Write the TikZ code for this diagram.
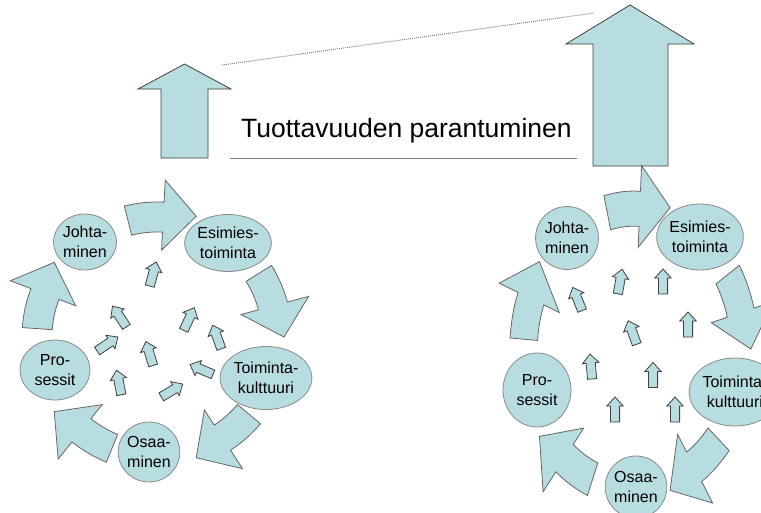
\documentclass[tikz,border=0pt]{standalone}
\usepackage{fontspec}
\setmainfont{Liberation Sans}
\usetikzlibrary{shapes.geometric}
\definecolor{fillb}{HTML}{B7DDE0}
\definecolor{edgeg}{HTML}{666666}
\definecolor{edgec}{HTML}{8A8A8A}
\tikzset{
  blk/.style={fill=fillb, draw=edgeg, line width=0.8pt, line join=miter},
  sblk/.style={fill=fillb, draw=black!75, line width=0.8pt, line join=miter},
  circ/.style={ellipse, fill=fillb, draw=edgec, line width=0.8pt, inner sep=0pt,
    align=center, font=\fontsize{16}{20}\selectfont},
}
\newcommand\curvarr[1]{%
  \pgfmathsetmacro\ta{#1-32}%
  \pgfmathsetmacro\tb{#1-15}%
  \filldraw[blk] plot[domain=\ta:\tb,samples=16] (\x:135) -- (\tb:157) -- (#1:127)
    -- (\tb:87) -- plot[domain=\tb:\ta,samples=16] (\x:105) -- cycle;
}
\newcommand\smallarr[3]{%
  \filldraw[sblk, shift={(#1,#2)}, rotate=#3] (0,-12.5) -- (8.2,-3.5) -- (4.6,-3.5)
    -- (4.6,12.5) -- (-4.6,12.5) -- (-4.6,-3.5) -- (-8.2,-3.5) -- cycle;
}
\begin{document}
\begin{tikzpicture}[x=1pt, y=1pt, yscale=-1]
\useasboundingbox (0,0) rectangle (761,512);
\clip (0,0) rectangle (761,512);

% top arrows
\filldraw[sblk] (184.5,64) -- (231,89) -- (208,89) -- (208,158) -- (161,158)
  -- (161,89) -- (138,89) -- cycle;
\filldraw[sblk] (630,5) -- (694,44) -- (668,44) -- (668,166) -- (593,166)
  -- (593,44) -- (566,44) -- cycle;

% lines and title
\coordinate (d1) at (222,65);
\coordinate (d2) at (594,13);
\draw[gray, line width=1pt, densely dotted] (d1) -- (d2);
\coordinate (u1) at (230,158);
\coordinate (u2) at (577,158);
\draw[gray, line width=0.8pt] (u1) -- (u2);
\node[anchor=base west, inner sep=0pt, font=\fontsize{26.5}{30}\selectfont] (title)
  at (241,137) {Tuottavuuden parantuminen};

% left cycle
\begin{scope}[shift={(157,337)}]
  \foreach \t in {-72,0,72,144,216} {\curvarr{\t}}
\end{scope}
\node[circ, minimum width=58pt, minimum height=56pt] (LJ) at (85,242) {Johta-\\minen};
\node[circ, minimum width=63pt, minimum height=57pt] (LE) at (228,243) {Esimies-\\toiminta};
\node[circ, minimum width=72pt, minimum height=63pt] (LT) at (266,378) {Toiminta-\\kulttuuri};
\node[circ, minimum width=57pt, minimum height=60pt] (LO) at (149,452) {Osaa-\\minen};
\node[circ, minimum width=70pt, minimum height=60pt] (LP) at (55,370) {Pro-\\sessit};

\smallarr{153}{274}{15}
\smallarr{119.5}{316.5}{-34}
\smallarr{189}{319}{25}
\smallarr{217}{337}{-20}
\smallarr{107.5}{344}{56}
\smallarr{149.5}{353.5}{-17}
\smallarr{119}{382.5}{-11}
\smallarr{201.5}{369.5}{-67}
\smallarr{172}{390.5}{59}

% right cycle
\begin{scope}[shift={(634,349)}, xscale=0.92, yscale=1.17]
  \foreach \t in {-72,0,72,144,216} {\curvarr{\t}}
\end{scope}
\node[circ, minimum width=60pt, minimum height=63pt] (RJ) at (567,238) {Johta-\\minen};
\node[circ, minimum width=65pt, minimum height=66pt] (RE) at (700,237) {Esimies-\\toiminta};
\node[circ, minimum width=69pt, minimum height=68pt] (RT) at (735,392) {Toiminta-\\kulttuuri};
\node[circ, minimum width=58pt, minimum height=62pt] (RO) at (636,487) {Osaa-\\minen};
\node[circ, minimum width=68pt, minimum height=74pt] (RP) at (537,390) {Pro-\\sessit};

\smallarr{620}{281.5}{10}
\smallarr{663}{281.5}{0}
\smallarr{577.5}{299}{-22}
\smallarr{688}{324.5}{0}
\smallarr{632.5}{332.5}{-20}
\smallarr{591}{366.5}{-5}
\smallarr{653}{375}{0}
\smallarr{615}{409.5}{0}
\smallarr{675}{409.5}{0}
\end{tikzpicture}
\end{document}
